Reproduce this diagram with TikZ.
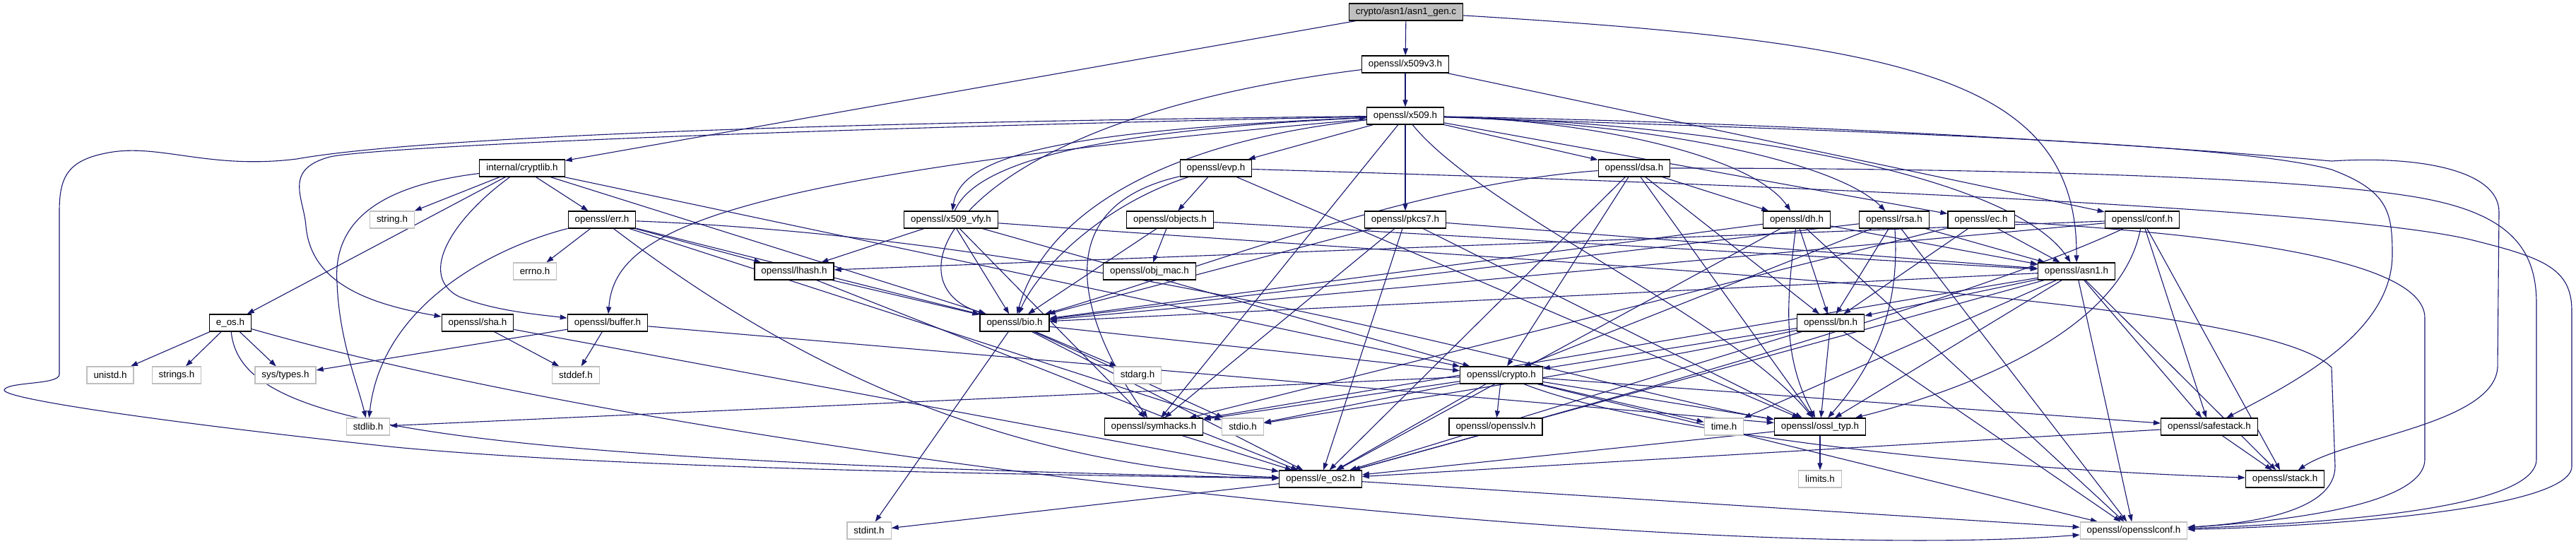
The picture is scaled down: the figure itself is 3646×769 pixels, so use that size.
\documentclass[tikz,border=0pt]{standalone}
\usepackage{fontspec}
\setmainfont{Liberation Sans}
\usetikzlibrary{arrows.meta,backgrounds}
\definecolor{edgeblue}{HTML}{191970}
\definecolor{sysgray}{HTML}{BFBFBF}
\tikzset{
  hdr/.style={draw=black, line width=1.2pt, fill=white, inner xsep=9.5pt, inner ysep=0pt,
    minimum height=24pt, font=\fontsize{13.4pt}{16pt}\selectfont},
  syshdr/.style={hdr, draw=sysgray},
  srcfile/.style={hdr, fill=sysgray},
  dep/.style={-{Triangle[length=10pt,width=7pt]}, draw=edgeblue, line width=1.1pt},
}

\begin{document}
\begin{tikzpicture}[x=1pt, y=-1pt]
  \useasboundingbox (0,0) rectangle (3646,769);
  % Headers, one row at a time
  \node[srcfile] (gen) at (1990,17) {crypto/asn1/asn1\_gen.c};
  \node[hdr] (x509v3) at (1989,91) {openssl/x509v3.h};
  \node[hdr] (x509) at (1989,164) {openssl/x509.h};

  \node[hdr] (cryptlib) at (739,238) {internal/cryptlib.h};
  \node[hdr] (evp) at (1721,238) {openssl/evp.h};
  \node[hdr] (dsa) at (2313,238) {openssl/dsa.h};

  \node[syshdr] (stringh) at (555,311) {string.h};
  \node[hdr] (err) at (852,311) {openssl/err.h};
  \node[hdr] (vfy) at (1346,311) {openssl/x509\_vfy.h};
  \node[hdr] (objects) at (1656,311) {openssl/objects.h};
  \node[hdr] (pkcs7) at (1989,311) {openssl/pkcs7.h};
  \node[hdr] (dh) at (2543,311) {openssl/dh.h};
  \node[hdr] (rsa) at (2681,311) {openssl/rsa.h};
  \node[hdr] (ec) at (2804,311) {openssl/ec.h};
  \node[hdr] (conf) at (3032,311) {openssl/conf.h};

  \node[syshdr] (errno) at (757,384) {errno.h};
  \node[hdr] (lhash) at (1124,384) {openssl/lhash.h};
  \node[hdr] (objmac) at (1627,384) {openssl/obj\_mac.h};
  \node[hdr] (asn1) at (2939,384) {openssl/asn1.h};

  \node[hdr] (eos) at (326,457) {e\_os.h};
  \node[hdr] (sha) at (676,457) {openssl/sha.h};
  \node[hdr] (buffer) at (860,457) {openssl/buffer.h};
  \node[hdr] (bio) at (1436,457) {openssl/bio.h};
  \node[hdr] (bn) at (2591,457) {openssl/bn.h};

  \node[syshdr] (unistd) at (156,531) {unistd.h};
  \node[syshdr] (strings) at (250,531) {strings.h};
  \node[syshdr] (systypes) at (404,531) {sys/types.h};
  \node[syshdr] (stddef) at (815,531) {stddef.h};
  \node[syshdr] (stdarg) at (1610,531) {stdarg.h};
  \node[hdr] (crypto) at (2125,531) {openssl/crypto.h};

  \node[syshdr] (stdlib) at (521,604) {stdlib.h};
  \node[hdr] (symhacks) at (1633,604) {openssl/symhacks.h};
  \node[syshdr] (stdio) at (1759,604) {stdio.h};
  \node[hdr] (opensslv) at (2117,604) {openssl/opensslv.h};
  \node[syshdr] (timeh) at (2440,604) {time.h};
  \node[hdr] (ossltyp) at (2576,604) {openssl/ossl\_typ.h};
  \node[hdr] (safestack) at (3127,604) {openssl/safestack.h};

  \node[hdr] (eostwo) at (1869,678) {openssl/e\_os2.h};
  \node[syshdr] (limits) at (2576,678) {limits.h};
  \node[hdr] (stack) at (3234,678) {openssl/stack.h};

  \node[syshdr] (stdint) at (1230,751) {stdint.h};
  \node[syshdr] (osslconf) at (3020,751) {openssl/opensslconf.h};

  \begin{pgfonlayer}{background}
    % source file
    \draw[dep] (gen) -- (x509v3);
    \draw[dep] (gen) -- (cryptlib);
    \draw[dep] (gen) .. controls (2700,60) and (2940,110) .. (asn1);
    % x509v3.h
    \draw[dep] (x509v3) -- (x509);
    \draw[dep] (x509v3) .. controls (1350,170) and (1250,400) .. (bio);
    \draw[dep] (x509v3) -- (conf);
    % x509.h
    \draw[dep] (x509) .. controls (1000,175) and (560,200) .. (420,225)
      .. controls (300,240) and (230,205) .. (160,215)
      .. controls (95,225) and (84,250) .. (84,300) -- (84,530)
      .. controls (84,545) and (10,540) .. (6,552)
      .. controls (4,565) and (250,600) .. (560,633)
      .. controls (900,665) and (1500,672) .. (eostwo);
    \draw[dep] (x509) .. controls (2100,300) and (2450,450) .. (ossltyp);
    \draw[dep] (x509) -- (symhacks);
    \draw[dep] (x509) .. controls (1000,250) and (870,330) .. (buffer);
    \draw[dep] (x509) -- (evp);
    \draw[dep] (x509) .. controls (1650,200) and (1480,300) .. (bio);
    \draw[dep] (x509) .. controls (2600,175) and (3100,210) .. (3300,228)
      .. controls (3420,220) and (3537,240) .. (3537,300) -- (3535,520)
      .. controls (3530,600) and (3320,620) .. (stack);
    \draw[dep] (x509) .. controls (2450,175) and (2850,250) .. (asn1);
    \draw[dep] (x509) .. controls (2600,185) and (3150,200) .. (3300,240)
      .. controls (3380,270) and (3386,300) .. (3386,360)
      .. controls (3386,470) and (3250,540) .. (safestack);
    \draw[dep] (x509) -- (ec);
    \draw[dep] (x509) -- (dsa);
    \draw[dep] (x509) .. controls (2250,170) and (2480,220) .. (dh);
    \draw[dep] (x509) .. controls (2350,175) and (2600,230) .. (rsa);
    \draw[dep] (x509) .. controls (1000,185) and (520,210) .. (467,222)
      .. controls (400,240) and (430,280) .. (433,320)
      .. controls (440,400) and (520,430) .. (sha);
    \draw[dep] (x509) .. controls (1500,185) and (1360,220) .. (vfy);
    \draw[dep] (x509) -- (pkcs7);
    % x509_vfy.h
    \draw[dep] (vfy) .. controls (1380,230) and (1550,185) .. (x509);
    \draw[dep] (vfy) .. controls (2300,380) and (3200,420) .. (3300,520) -- (3305,660)
      .. controls (3305,720) and (3200,740) .. (osslconf);
    \draw[dep] (vfy) -- (lhash);
    \draw[dep] (vfy) -- (bio);
    \draw[dep] (vfy) -- (crypto);
    \draw[dep] (vfy) -- (symhacks);
    % internal/cryptlib.h
    \draw[dep] (cryptlib) .. controls (560,260) and (470,300) .. (477,400)
      .. controls (480,480) and (505,540) .. (stdlib);
    \draw[dep] (cryptlib) -- (stringh);
    \draw[dep] (cryptlib) -- (eos);
    \draw[dep] (cryptlib) .. controls (640,310) and (590,390) .. (650,420)
      .. controls (700,440) and (760,445) .. (buffer);
    \draw[dep] (cryptlib) -- (bio);
    \draw[dep] (cryptlib) -- (err);
    \draw[dep] (cryptlib) -- (crypto);
    % evp.h
    \draw[dep] (evp) .. controls (2300,255) and (3300,290) .. (3500,340)
      .. controls (3600,365) and (3640,380) .. (3640,440) -- (3640,660)
      .. controls (3640,720) and (3300,745) .. (osslconf);
    \draw[dep] (evp) -- (ossltyp);
    \draw[dep] (evp) .. controls (1450,300) and (1560,500) .. (symhacks);
    \draw[dep] (evp) .. controls (1560,290) and (1470,380) .. (bio);
    \draw[dep] (evp) -- (objects);
    % objects.h
    \draw[dep] (objects) -- (objmac);
    \draw[dep] (objects) -- (bio);
    \draw[dep] (objects) -- (asn1);
    % pkcs7.h
    \draw[dep] (pkcs7) -- (asn1);
    \draw[dep] (pkcs7) -- (bio);
    \draw[dep] (pkcs7) -- (eostwo);
    \draw[dep] (pkcs7) -- (symhacks);
    \draw[dep] (pkcs7) -- (ossltyp);
    % dsa.h
    \draw[dep] (dsa) .. controls (2800,238) and (3300,250) .. (3450,285)
      .. controls (3560,310) and (3590,360) .. (3590,430) -- (3590,650)
      .. controls (3590,720) and (3300,740) .. (osslconf);
    \draw[dep] (dsa) -- (eostwo);
    \draw[dep] (dsa) .. controls (2000,260) and (1700,380) .. (bio);
    \draw[dep] (dsa) -- (crypto);
    \draw[dep] (dsa) -- (ossltyp);
    \draw[dep] (dsa) -- (bn);
    \draw[dep] (dsa) -- (dh);
    % dh.h
    \draw[dep] (dh) -- (osslconf);
    \draw[dep] (dh) -- (eostwo);
    \draw[dep] (dh) -- (bio);
    \draw[dep] (dh) -- (asn1);
    \draw[dep] (dh) .. controls (2530,420) and (2520,500) .. (ossltyp);
    \draw[dep] (dh) -- (bn);
    % rsa.h
    \draw[dep] (rsa) -- (osslconf);
    \draw[dep] (rsa) -- (asn1);
    \draw[dep] (rsa) -- (bio);
    \draw[dep] (rsa) -- (crypto);
    \draw[dep] (rsa) .. controls (2690,440) and (2650,520) .. (ossltyp);
    \draw[dep] (rsa) -- (bn);
    % ec.h
    \draw[dep] (ec) .. controls (3100,330) and (3432,360) .. (3432,450) -- (3432,650)
      .. controls (3432,720) and (3200,740) .. (osslconf);
    \draw[dep] (ec) -- (asn1);
    \draw[dep] (ec) -- (symhacks);
    \draw[dep] (ec) -- (bn);
    % conf.h
    \draw[dep] (conf) -- (bio);
    \draw[dep] (conf) -- (lhash);
    \draw[dep] (conf) -- (safestack);
    \draw[dep] (conf) -- (stack);
    \draw[dep] (conf) .. controls (2800,420) and (2300,560) .. (eostwo);
    \draw[dep] (conf) .. controls (3000,480) and (2750,560) .. (ossltyp);
    % err.h
    \draw[dep] (err) .. controls (1100,500) and (1400,660) .. (eostwo);
    \draw[dep] (err) -- (stdio);
    \draw[dep] (err) .. controls (700,350) and (540,430) .. (stdlib);
    \draw[dep] (err) .. controls (1600,340) and (2300,560) .. (ossltyp);
    \draw[dep] (err) -- (bio);
    \draw[dep] (err) -- (lhash);
    \draw[dep] (err) -- (errno);
    % lhash.h
    \draw[dep] (lhash) -- (eostwo);
    \draw[dep] (lhash) -- (bio);
    % asn1.h
    \draw[dep] (asn1) -- (timeh);
    \draw[dep] (asn1) -- (eostwo);
    \draw[dep] (asn1) -- (osslconf);
    \draw[dep] (asn1) -- (bio);
    \draw[dep] (asn1) -- (safestack);
    \draw[dep] (asn1) -- (stack);
    \draw[dep] (asn1) -- (symhacks);
    \draw[dep] (asn1) -- (ossltyp);
    \draw[dep] (asn1) -- (bn);
    % e_os.h
    \draw[dep] (eos) .. controls (1000,650) and (2400,800) .. (osslconf);
    \draw[dep] (eos) .. controls (340,600) and (600,650) .. (eostwo);
    \draw[dep] (eos) -- (unistd);
    \draw[dep] (eos) -- (systypes);
    \draw[dep] (eos) -- (strings);
    % sha.h
    \draw[dep] (sha) -- (eostwo);
    \draw[dep] (sha) -- (stddef);
    % buffer.h
    \draw[dep] (buffer) -- (ossltyp);
    \draw[dep] (buffer) -- (stddef);
    \draw[dep] (buffer) -- (systypes);
    % bio.h
    \draw[dep] (bio) -- (eostwo);
    \draw[dep] (bio) -- (stdio);
    \draw[dep] (bio) -- (stdarg);
    \draw[dep] (bio) -- (crypto);
    \draw[dep] (bio) -- (stdint);
    % bn.h
    \draw[dep] (bn) -- (eostwo);
    \draw[dep] (bn) .. controls (2300,520) and (1900,580) .. (stdio);
    \draw[dep] (bn) -- (osslconf);
    \draw[dep] (bn) -- (ossltyp);
    \draw[dep] (bn) -- (crypto);
    % crypto.h
    \draw[dep] (crypto) -- (stdlib);
    \draw[dep] (crypto) -- (timeh);
    \draw[dep] (crypto) -- (eostwo);
    \draw[dep] (crypto) -- (stdio);
    \draw[dep] (crypto) .. controls (2300,600) and (2700,660) .. (stack);
    \draw[dep] (crypto) -- (safestack);
    \draw[dep] (crypto) -- (opensslv);
    \draw[dep] (crypto) -- (ossltyp);
    \draw[dep] (crypto) -- (osslconf);
    \draw[dep] (crypto) -- (symhacks);
    % the lower rows
    \draw[dep] (symhacks) -- (eostwo);
    \draw[dep] (ossltyp) -- (eostwo);
    \draw[dep] (ossltyp) -- (limits);
    \draw[dep] (safestack) -- (stack);
    \draw[dep] (safestack) -- (eostwo);
    \draw[dep] (eostwo) -- (osslconf);
    \draw[dep] (eostwo) -- (stdint);
  \end{pgfonlayer}
\end{tikzpicture}
\end{document}
